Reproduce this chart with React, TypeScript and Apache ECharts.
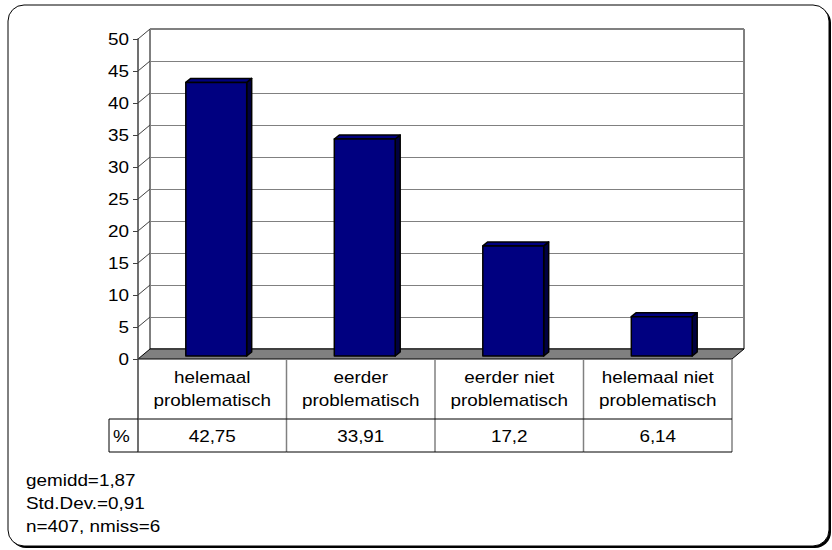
import React, { useEffect, useRef } from "react";
import * as echarts from "echarts";

// ---- data ----
const categories = [
  "helemaal problematisch",
  "eerder problematisch",
  "eerder niet problematisch",
  "helemaal niet problematisch",
];
const percentages = [42.75, 33.91, 17.2, 6.14];
const yTicks = [0, 5, 10, 15, 20, 25, 30, 35, 40, 45, 50];
const rowLabel = "%";
const statsLines = ["gemidd=1,87", "Std.Dev.=0,91", "n=407, nmiss=6"];

// ---- layout / style ----
const W = 832;
const H = 550;
const FONT = '"Liberation Sans", Arial, sans-serif';
const FS = 16;
const SX = 1.18; // horizontal stretch of the reference's text
const FRONT = { left: 138, top: 39, width: 594, height: 320 };
const DEPTH = { x: 12, y: 10 };
const BAR_RATIO = 0.41;
const BAR_OFF = { x: 4, y: 3 };
const BAR_DEPTH = { x: 5, y: 4 };
const HEADER_H = 60;
const VALUE_H = 33;
const PCT_LEFT = 109;
const NAVY = "#000080";
const NAVY_DARK = "#000040";

const fmt = (v: number) => String(v).replace(".", ",");
const wrap = (s: string) => s.replace(" problematisch", "\nproblematisch");

const txt = (
  text: string,
  x: number,
  y: number,
  align: string,
  verticalAlign: string,
  extra: any = {}
) => ({
  type: "text",
  x,
  y,
  scaleX: SX,
  scaleY: 1,
  silent: true,
  ...extra,
  style: {
    text,
    x: 0,
    y: 0,
    align,
    verticalAlign,
    fontSize: FS,
    fontFamily: FONT,
    lineHeight: 23,
    fill: "#000",
  },
});

export default function App() {
  const ref = useRef<HTMLDivElement>(null);

  useEffect(() => {
    if (!ref.current) return;
    const chart = echarts.init(ref.current, null, { renderer: "svg", width: W, height: H });

    const yMax = yTicks[yTicks.length - 1];
    const interval = yTicks[1] - yTicks[0];
    const tableTop = FRONT.top + FRONT.height;
    const rowY = tableTop + HEADER_H;
    const tableBottom = rowY + VALUE_H;

    const option: any = {
      animation: false,
      backgroundColor: "#fff",
      textStyle: { fontFamily: FONT },
      grid: [
        { ...FRONT, show: false, containLabel: false },
        {
          left: FRONT.left + DEPTH.x,
          top: FRONT.top - DEPTH.y,
          width: FRONT.width,
          height: FRONT.height,
          show: true,
          backgroundColor: "#fff",
          borderColor: "#000",
          borderWidth: 1,
          z: 0,
        },
      ],
      xAxis: [
        {
          type: "category",
          gridIndex: 0,
          data: categories,
          boundaryGap: true,
          axisLine: { show: false },
          axisTick: { show: false },
          axisLabel: { show: false },
          splitLine: { show: false },
        },
        {
          type: "category",
          gridIndex: 1,
          data: categories,
          boundaryGap: true,
          axisLine: { show: false },
          axisTick: { show: false },
          axisLabel: { show: false },
          splitLine: { show: false },
        },
      ],
      yAxis: [
        {
          type: "value",
          gridIndex: 0,
          min: 0,
          max: yMax,
          interval,
          axisLine: { show: true, lineStyle: { color: "#404040", width: 1.5 } },
          axisTick: { show: true, length: 5, lineStyle: { color: "#404040", width: 1 } },
          axisLabel: { show: false },
          splitLine: { show: false },
          z: 5,
        },
        {
          type: "value",
          gridIndex: 1,
          min: 0,
          max: yMax,
          interval,
          axisLine: { show: false },
          axisTick: { show: false },
          axisLabel: { show: false },
          splitLine: { show: true, lineStyle: { color: "#808080", width: 1 } },
        },
      ],
      series: [
        {
          // floor, side wall and y tick labels
          type: "custom",
          xAxisIndex: 0,
          yAxisIndex: 0,
          z: 1,
          silent: true,
          data: yTicks.map((t) => [0, t]),
          renderItem: (params: any, api: any) => {
            const cs = params.coordSys;
            const t = api.value(1);
            const p = api.coord([0, t]);
            const left = cs.x;
            const right = cs.x + cs.width;
            const label = txt(String(t), left - 9, p[1] + 1, "right", "middle");
            const shape =
              t === 0
                ? {
                    type: "polygon",
                    shape: {
                      points: [
                        [left, p[1]],
                        [left + DEPTH.x, p[1] - DEPTH.y],
                        [right + DEPTH.x, p[1] - DEPTH.y],
                        [right, p[1]],
                      ],
                    },
                    style: { fill: "#808080", stroke: "#000", lineWidth: 1 },
                  }
                : {
                    type: "line",
                    shape: { x1: left, y1: p[1], x2: left + DEPTH.x, y2: p[1] - DEPTH.y },
                    style: { stroke: "#404040", lineWidth: 1 },
                  };
            return { type: "group", children: [shape, label] };
          },
        },
        {
          // 3D bars
          type: "custom",
          xAxisIndex: 0,
          yAxisIndex: 0,
          z: 3,
          data: percentages.map((v, i) => [i, v]),
          renderItem: (params: any, api: any) => {
            const idx = api.value(0);
            const v = api.value(1);
            const top = api.coord([idx, v]);
            const base = api.coord([idx, 0]);
            const band = api.size([1, 0])[0];
            const bw = band * BAR_RATIO;
            const x0 = top[0] - bw / 2 + BAR_OFF.x;
            const x1 = x0 + bw;
            const yt = top[1] - BAR_OFF.y;
            const yb = base[1] - BAR_OFF.y;
            const dx = BAR_DEPTH.x;
            const dy = BAR_DEPTH.y;
            const st = { stroke: "#000", lineWidth: 1.5, lineJoin: "round" };
            return {
              type: "group",
              children: [
                {
                  type: "polygon",
                  shape: { points: [[x1, yb], [x1, yt], [x1 + dx, yt - dy], [x1 + dx, yb - dy]] },
                  style: { fill: NAVY_DARK, ...st },
                },
                {
                  type: "polygon",
                  shape: { points: [[x0, yt], [x0 + dx, yt - dy], [x1 + dx, yt - dy], [x1, yt]] },
                  style: { fill: NAVY, ...st },
                },
                {
                  type: "rect",
                  shape: { x: x0, y: yt, width: bw, height: yb - yt },
                  style: { fill: NAVY, ...st },
                },
              ],
            };
          },
        },
        {
          // data table
          type: "custom",
          xAxisIndex: 0,
          yAxisIndex: 0,
          z: 4,
          silent: true,
          data: percentages.map((v, i) => [i, v]),
          renderItem: (params: any, api: any) => {
            const idx = api.value(0);
            const v = api.value(1);
            const c = api.coord([idx, 0]);
            const band = api.size([1, 0])[0];
            const left = c[0] - band / 2;
            const right = c[0] + band / 2;
            const children: any[] = [
              {
                type: "line",
                shape: { x1: right, y1: tableTop, x2: right, y2: tableBottom },
                style: { stroke: "#808080", lineWidth: 1.5 },
              },
              {
                type: "line",
                shape: { x1: left, y1: rowY, x2: right, y2: rowY },
                style: { stroke: "#000", lineWidth: 1 },
              },
              {
                type: "line",
                shape: { x1: left, y1: tableBottom, x2: right, y2: tableBottom },
                style: { stroke: "#000", lineWidth: 1 },
              },
              txt(wrap(categories[idx]), c[0], tableTop + HEADER_H / 2, "center", "middle"),
              txt(fmt(v), c[0], rowY + VALUE_H / 2 + 1, "center", "middle"),
            ];
            if (idx === 0) {
              children.push({
                type: "line",
                shape: { x1: left, y1: tableTop, x2: left, y2: tableBottom },
                style: { stroke: "#404040", lineWidth: 1.5 },
              });
            }
            return { type: "group", children };
          },
        },
      ],
      graphic: {
        elements: [
          {
            type: "rect",
            z: -10,
            silent: true,
            shape: { x: 10, y: 7, width: 821, height: 541, r: 16 },
            style: { fill: "#000" },
          },
          {
            type: "rect",
            z: -9,
            silent: true,
            shape: { x: 8, y: 5, width: 821, height: 541, r: 16 },
            style: { fill: "#fff", stroke: "#000", lineWidth: 1 },
          },
          {
            type: "line",
            z: 10,
            silent: true,
            shape: { x1: PCT_LEFT, y1: rowY, x2: PCT_LEFT, y2: tableBottom },
            style: { stroke: "#000", lineWidth: 1 },
          },
          {
            type: "line",
            z: 10,
            silent: true,
            shape: { x1: PCT_LEFT, y1: rowY, x2: FRONT.left, y2: rowY },
            style: { stroke: "#000", lineWidth: 1 },
          },
          {
            type: "line",
            z: 10,
            silent: true,
            shape: { x1: PCT_LEFT, y1: tableBottom, x2: FRONT.left, y2: tableBottom },
            style: { stroke: "#000", lineWidth: 1 },
          },
          txt(rowLabel, 113, rowY + VALUE_H / 2 + 1, "left", "middle", { z: 10 }),
          txt(statsLines.join("\n"), 26, 469, "left", "top", { z: 10 }),
        ],
      },
    };

    chart.setOption(option);
    return () => {
      chart.dispose();
    };
  }, []);

  return (
    <div
      ref={ref}
      style={{ position: "absolute", left: 0, top: 0, width: W, height: H, background: "#fff" }}
    />
  );
}
